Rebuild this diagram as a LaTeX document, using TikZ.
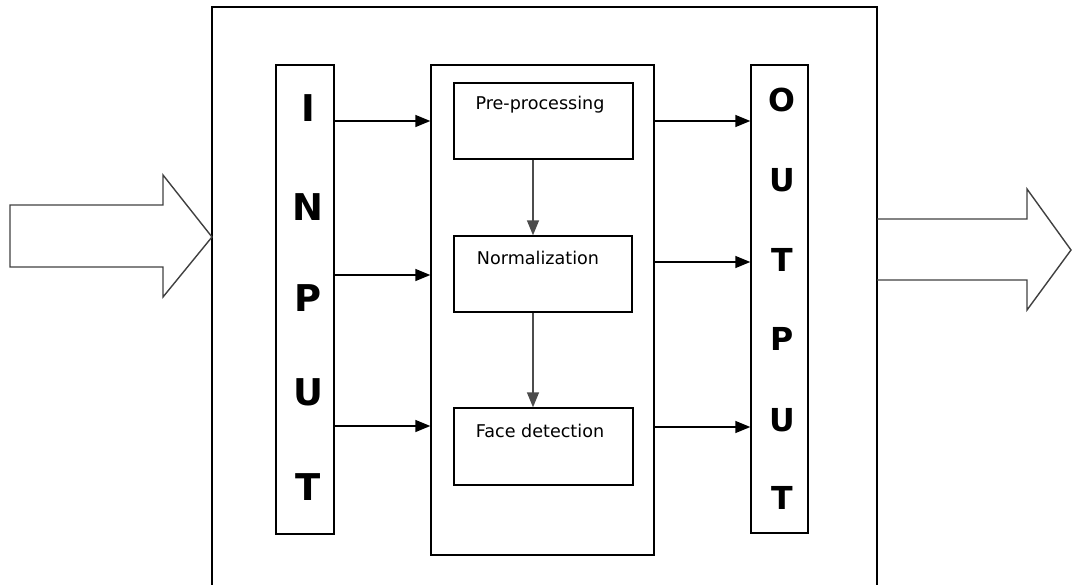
\documentclass[tikz,border=0pt]{standalone}
\usepackage{fontspec}
\setmainfont{DejaVu Sans}
\usetikzlibrary{arrows.meta}

\tikzset{
    box/.style={draw, line width=0.8pt, inner sep=0pt},
    flow/.style={-{Triangle[length=3mm, width=2.4mm]}, line width=0.8pt},
    bigarrow/.style={draw=black!75, line width=0.8pt, line join=miter},
    letterin/.style={font=\bfseries\fontsize{21}{21}\selectfont},
    letterout/.style={font=\bfseries\fontsize{18}{18}\selectfont},
    steplabel/.style={font=\fontsize{10}{12}\selectfont}
}

\begin{document}
\begin{tikzpicture}[x=0.02cm, y=-0.02cm]
    \useasboundingbox (0,0) rectangle (1072,585);
    % outer frame, open at the bottom
    \draw [line width=0.8pt] (212,585) -- (212,7) -- (877,7) -- (877,585);
    % big block arrows in and out
    \draw [bigarrow] (10,205) -- (163,205) -- (163,175) -- (212,237) -- (163,297) -- (163,267) -- (10,267) -- cycle;
    \draw [bigarrow] (877,219) -- (1027,219) -- (1027,189) -- (1071,250) -- (1027,310) -- (1027,280) -- (877,280);

    \node [box, minimum width=1.16cm, minimum height=9.38cm] (input) at (305,299.5) {};
    \node [box, minimum width=4.46cm, minimum height=9.8cm] (core) at (542.5,310) {};
    \node [box, minimum width=1.14cm, minimum height=9.36cm] (output) at (779.5,299) {};

    \node [box, minimum width=3.58cm, minimum height=1.52cm] (pre) at (543.5,121) {};
    \node [box, minimum width=3.56cm, minimum height=1.52cm] (norm) at (543,274) {};
    \node [box, minimum width=3.58cm, minimum height=1.54cm] (face) at (543.5,446.5) {};
    \node [steplabel] (prelabel) at (540,105) {Pre-processing};
    \node [steplabel] (normlabel) at (538,258) {Normalization};
    \node [steplabel] (facelabel) at (540,431) {Face detection};

    % letters down the side boxes
    \foreach \ch/\yy [count=\i] in {I/108, N/207, P/298, U/392, T/487}
        \node [letterin] (in-\i) at (308,\yy) {\ch};
    \foreach \ch/\yy [count=\i] in {O/100, U/180, T/260, P/339, U/420, T/498}
        \node [letterout] (out-\i) at (782,\yy) {\ch};

    % arrows into and out of the middle block
    \foreach \yy [count=\i] in {121, 275, 426} {
        \coordinate (ia-\i) at (0,\yy);
        \draw [flow] (input.east |- ia-\i) -- (core.west |- ia-\i);
    }
    \foreach \yy [count=\i] in {121, 262, 427} {
        \coordinate (oa-\i) at (0,\yy);
        \draw [flow] (core.east |- oa-\i) -- (output.west |- oa-\i);
    }
    \coordinate (vx) at (533,0);
    \draw [flow, black!70] (pre.south -| vx) -- (norm.north -| vx);
    \draw [flow, black!70] (norm.south -| vx) -- (face.north -| vx);
\end{tikzpicture}
\end{document}
